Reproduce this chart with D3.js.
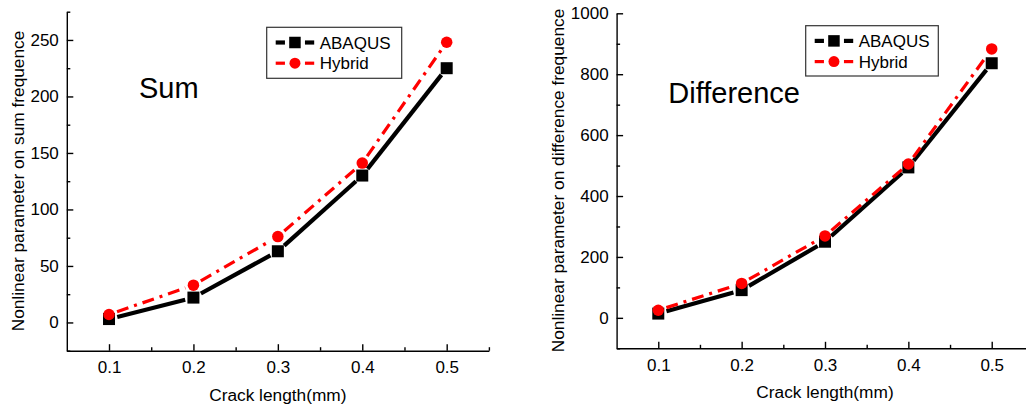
<!DOCTYPE html>
<html>
<head>
<meta charset="utf-8">
<script src="https://cdn.jsdelivr.net/npm/d3@7"></script>
<style>
  html, body { margin: 0; padding: 0; background: #fff; }
  svg { display: block; font-family: Arial, "Liberation Sans", sans-serif; }
</style>
</head>
<body>
<svg id="chart" width="1026" height="410"></svg>
<script>
// ---------- data ----------
const crackLengths = [0.1, 0.2, 0.3, 0.4, 0.5];
const seriesNames = ["ABAQUS", "Hybrid"];
const sumABAQUS = [3, 22, 63, 130, 225];
const sumHybrid = [7, 33, 76, 141, 248];
const diffABAQUS = [14, 91, 250, 494, 836];
const diffHybrid = [25, 113, 269, 505, 883];
const xTickValues = [0.1, 0.2, 0.3, 0.4, 0.5];
const xMinorValues = [0.15, 0.25, 0.35, 0.45, 0.55];
const sumYTicks = [0, 50, 100, 150, 200, 250];
const sumYMinor = [-25, 25, 75, 125, 175, 225, 275];
const diffYTicks = [0, 200, 400, 600, 800, 1000];
const diffYMinor = [-100, 100, 300, 500, 700, 900];
const xTitle = "Crack length(mm)";
const sumYTitle = "Nonlinear parameter on sum frequence";
const diffYTitle = "Nonlinear parameter on difference frequence";
const panelLabels = ["Sum", "Difference"];

// ---------- layout ----------
const svg = d3.select("#chart");
const FONT = 'Arial, "Liberation Sans", sans-serif';

const panels = [
  {
    xRange: [66.8, 488.9], yRange: [350.7, 11.7], yDomain: [-25, 275],
    yTicks: sumYTicks, yMinor: sumYMinor, series: [sumABAQUS, sumHybrid],
    yTitle: sumYTitle, yTitleX: 18, yTitleY: 181,
    label: panelLabels[0], labelX: 139, labelY: 98,
    legend: { x: 266.7, y: 27.3, w: 135, h: 51 },
    xTitleY: 401, xTickY: 373
  },
  {
    xRange: [616.6, 1033.4], yRange: [348.3, 13.3], yDomain: [-100, 1000],
    yTicks: diffYTicks, yMinor: diffYMinor, series: [diffABAQUS, diffHybrid],
    yTitle: diffYTitle, yTitleX: 558, yTitleY: 180.5,
    label: panelLabels[1], labelX: 668.3, labelY: 102.7,
    legend: { x: 805.7, y: 25.7, w: 132.6, h: 50.3 },
    xTitleY: 398, xTickY: 371
  }
];

const styles = [
  { color: "#000", width: 4.2, dash: null, marker: "square", size: 12, trim: 8.5 },
  { color: "#ff0000", width: 3.2, dash: "12,6,3,6", marker: "circle", size: 11.5, trim: 8.5 }
];

function drawMarker(g, type, cx, cy, size, color) {
  if (type === "square") {
    g.append("rect").attr("x", cx - size / 2).attr("y", cy - size / 2)
      .attr("width", size).attr("height", size).attr("fill", color);
  } else {
    g.append("circle").attr("cx", cx).attr("cy", cy).attr("r", size / 2).attr("fill", color);
  }
}

panels.forEach(p => {
  const x = d3.scaleLinear().domain([0.05, 0.55]).range(p.xRange);
  const y = d3.scaleLinear().domain(p.yDomain).range(p.yRange);
  const g = svg.append("g");

  // x axis
  const xAxis = g.append("g").attr("transform", `translate(0,${p.yRange[0]})`)
    .call(d3.axisBottom(x).tickValues(xTickValues).tickSizeInner(-6.5).tickSizeOuter(0)
      .tickPadding(0).tickFormat(d3.format(".1f")));
  xAxis.selectAll("text").attr("y", p.xTickY - p.yRange[0]).attr("dy", null)
    .attr("font-size", 17).attr("fill", "#000").attr("font-family", FONT);
  const xMinorAxis = g.append("g").attr("transform", `translate(0,${p.yRange[0]})`)
    .call(d3.axisBottom(x).tickValues(xMinorValues).tickSizeInner(-3.5).tickSizeOuter(0).tickFormat(""));
  xMinorAxis.select(".domain").remove();

  // y axis
  const yAxis = g.append("g").attr("transform", `translate(${p.xRange[0]},0)`)
    .call(d3.axisLeft(y).tickValues(p.yTicks).tickSizeInner(-6.5).tickSizeOuter(0)
      .tickPadding(8).tickFormat(d3.format("d")));
  yAxis.selectAll("text").attr("font-size", 17).attr("fill", "#000").attr("font-family", FONT);
  const yMinorAxis = g.append("g").attr("transform", `translate(${p.xRange[0]},0)`)
    .call(d3.axisLeft(y).tickValues(p.yMinor).tickSizeInner(-3.5).tickSizeOuter(0).tickFormat(""));
  yMinorAxis.select(".domain").remove();

  g.selectAll(".domain, .tick line").attr("stroke", "#000").attr("stroke-width", 1.4);

  // axis titles
  g.append("text").attr("x", x(0.3)).attr("y", p.xTitleY).attr("text-anchor", "middle")
    .attr("font-size", 17.3).attr("fill", "#000").text(xTitle);
  g.append("text").attr("transform", `translate(${p.yTitleX},${p.yTitleY}) rotate(-90)`)
    .attr("text-anchor", "middle").attr("dy", "0.35em")
    .attr("font-size", 17.3).attr("fill", "#000").text(p.yTitle);

  // panel label
  g.append("text").attr("x", p.labelX).attr("y", p.labelY)
    .attr("font-size", 29).attr("fill", "#000").text(p.label);

  // series lines (broken near symbols)
  p.series.forEach((vals, si) => {
    const st = styles[si];
    const pts = crackLengths.map((c, i) => [x(c), y(vals[i])]);
    for (let i = 0; i < pts.length - 1; i++) {
      const [x0, y0] = pts[i], [x1, y1] = pts[i + 1];
      const dx = x1 - x0, dy = y1 - y0, len = Math.hypot(dx, dy);
      const ux = dx / len, uy = dy / len;
      const seg = [[x0 + ux * st.trim, y0 + uy * st.trim], [x1 - ux * st.trim, y1 - uy * st.trim]];
      g.append("path").attr("d", d3.line()(seg)).attr("fill", "none")
        .attr("stroke", st.color).attr("stroke-width", st.width)
        .attr("stroke-dasharray", st.dash);
    }
  });
  p.series.forEach((vals, si) => {
    const st = styles[si];
    crackLengths.forEach((c, i) => drawMarker(g, st.marker, x(c), y(vals[i]), st.size, st.color));
  });

  // legend
  const L = p.legend;
  const lg = g.append("g");
  lg.append("rect").attr("x", L.x).attr("y", L.y).attr("width", L.w).attr("height", L.h)
    .attr("fill", "#fff").attr("stroke", "#333").attr("stroke-width", 1.2);
  seriesNames.forEach((name, si) => {
    const st = styles[si];
    const cy = L.y + 15.2 + si * 20.7;
    const sx0 = L.x + 9, sx1 = L.x + 47.5, cx = (sx0 + sx1) / 2;
    lg.append("line").attr("x1", sx0).attr("x2", cx - 10).attr("y1", cy).attr("y2", cy)
      .attr("stroke", st.color).attr("stroke-width", st.width);
    lg.append("line").attr("x1", cx + 10).attr("x2", sx1).attr("y1", cy).attr("y2", cy)
      .attr("stroke", st.color).attr("stroke-width", st.width);
    drawMarker(lg, st.marker, cx, cy, st.size - 0.5, st.color);
    lg.append("text").attr("x", L.x + 53).attr("y", cy).attr("dy", "0.36em")
      .attr("font-size", 17).attr("fill", "#000").text(name);
  });
});
</script>
</body>
</html>
